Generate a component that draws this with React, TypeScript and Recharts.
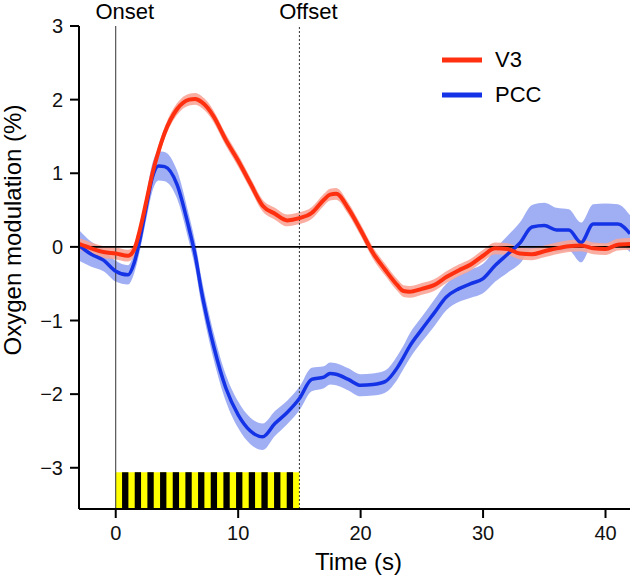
import {
  ComposedChart,
  Line,
  Area,
  XAxis,
  YAxis,
  ReferenceLine,
  ReferenceArea,
} from "recharts";

// time (s) and mean responses
const TIME = [
  -3, -2, -1, 0, 1, 1.5, 2, 2.5, 3, 3.5, 4, 5, 6, 6.5, 7, 7.5, 8, 9, 10, 11,
  12, 13, 14, 15, 16, 17, 17.5, 18, 19, 20, 21, 22, 23, 23.5, 24, 25, 26, 27,
  28, 29, 30, 31, 32, 33, 34, 35, 36, 37, 38, 39, 40, 41, 42,
];

const V3 = [
  0.04, -0.02, -0.07, -0.09, -0.12, -0.04, 0.25, 0.62, 1.0, 1.3, 1.55, 1.87,
  2.0, 2.01, 1.97, 1.89, 1.77, 1.45, 1.17, 0.86, 0.56, 0.45, 0.36, 0.39, 0.46,
  0.64, 0.71, 0.72, 0.52, 0.23, -0.08, -0.31, -0.52, -0.6, -0.61, -0.57,
  -0.52, -0.41, -0.32, -0.24, -0.12, -0.02, -0.03, -0.09, -0.1, -0.06, -0.02,
  0.01, 0.02, -0.02, -0.03, 0.03, 0.04,
];

const PCC = [
  0.02, -0.1, -0.18, -0.33, -0.38, -0.22, 0.12, 0.55, 0.95, 1.1, 1.09, 0.85,
  0.24, -0.12, -0.6, -1.0, -1.35, -1.92, -2.28, -2.5, -2.58, -2.4, -2.25,
  -2.06, -1.8, -1.77, -1.72, -1.73, -1.8, -1.88, -1.87, -1.83, -1.64, -1.5,
  -1.35, -1.12, -0.9, -0.68, -0.57, -0.5, -0.43, -0.25, -0.1, 0.05, 0.27, 0.29,
  0.23, 0.23, 0.06, 0.31, 0.31, 0.31, 0.18,
];

// half width of the shaded error bands
const V3_SEM = 0.08;
const PCC_SEM = [
  0.21, 0.17, 0.15, 0.14, 0.13, 0.14, 0.15, 0.17, 0.19, 0.2, 0.2, 0.19, 0.18,
  0.18, 0.18, 0.18, 0.18, 0.18, 0.18, 0.18, 0.18, 0.17, 0.16, 0.16, 0.16,
  0.15, 0.15, 0.15, 0.15, 0.15, 0.15, 0.15, 0.16, 0.16, 0.17, 0.17, 0.18,
  0.18, 0.18, 0.19, 0.2, 0.22, 0.25, 0.28, 0.3, 0.31, 0.3, 0.28, 0.27, 0.27,
  0.28, 0.27, 0.25,
];

const X_TICKS = [0, 10, 20, 30, 40];
const Y_TICKS = [-3, -2, -1, 0, 1, 2, 3];

const STIM_ON = 0;
const STIM_OFF = 15;
// black stripes of the flickering stimulus bar
const FLICKER_STARTS = [
  0.517, 1.551, 2.586, 3.62, 4.655, 5.689, 6.724, 7.758, 8.793, 9.827, 10.862,
  11.896, 12.931, 13.965,
];
const FLICKER_WIDTH = 0.517;

const RED = "#ff3010";
const RED_BAND = "#f8a597";
const BLUE = "#1432e6";
const BLUE_BAND = "#8fa0f2";

const FONT = "'Liberation Sans', Arial, Helvetica, sans-serif";

const data = TIME.map((t, i) => ({
  t,
  v3: V3[i],
  v3Band: [V3[i] - V3_SEM, V3[i] + V3_SEM],
  pcc: PCC[i],
  pccBand: [PCC[i] - PCC_SEM[i], PCC[i] + PCC_SEM[i]],
}));

const fmt = (v: number) => (v < 0 ? `\u2212${Math.abs(v)}` : `${v}`);

function EventLabel({ viewBox, text }: any) {
  return (
    <text
      x={viewBox.x + 9}
      y={viewBox.y - 7}
      textAnchor="middle"
      fontSize={22}
      fontFamily={FONT}
      fill="#000"
    >
      {text}
    </text>
  );
}

function YTitle({ viewBox }: any) {
  const x = viewBox.x + 21;
  const y = 230;
  return (
    <text
      x={x}
      y={y}
      transform={`rotate(-90 ${x} ${y})`}
      textAnchor="middle"
      fontSize={24}
      fontFamily={FONT}
      fill="#000"
    >
      Oxygen modulation (%)
    </text>
  );
}

function LegendBox() {
  const items = [
    { name: "V3", color: RED },
    { name: "PCC", color: BLUE },
  ];
  return (
    <div
      style={{
        position: "absolute",
        left: 442,
        top: 42,
        fontFamily: FONT,
        fontSize: 22,
      }}
    >
      {items.map((it) => (
        <div
          key={it.name}
          style={{ display: "flex", alignItems: "center", height: 35 }}
        >
          <svg width={53} height={10}>
            <line
              x1={0}
              y1={5}
              x2={40}
              y2={5}
              stroke={it.color}
              strokeWidth={5}
            />
          </svg>
          <span>{it.name}</span>
        </div>
      ))}
    </div>
  );
}

export default function App() {
  return (
    <div style={{ position: "absolute", left: 0, top: 0, width: 636, height: 577 }}>
      <ComposedChart
        width={636}
        height={577}
        data={data}
        margin={{ top: 26, right: 6, bottom: 0, left: 0 }}
        style={{ fontFamily: FONT }}
      >
        <XAxis
          dataKey="t"
          type="number"
          domain={[-3, 42]}
          ticks={X_TICKS}
          allowDataOverflow
          height={68}
          tickSize={9}
          tickMargin={8}
          stroke="#000"
          strokeWidth={2}
          tick={{ fill: "#111", fontSize: 20 }}
          label={{
            value: "Time (s)",
            position: "insideBottom",
            offset: 7,
            dx: 4,
            fontSize: 24,
            fill: "#000",
          }}
        />
        <YAxis
          type="number"
          domain={[-3.56, 3]}
          ticks={Y_TICKS}
          allowDataOverflow
          width={79}
          tickSize={9}
          tickMargin={7}
          tickFormatter={fmt}
          stroke="#000"
          strokeWidth={2}
          tick={{ fill: "#111", fontSize: 20 }}
          label={<YTitle />}
        />

        <ReferenceArea
          x1={STIM_ON}
          x2={STIM_OFF}
          y1={-3.56}
          y2={-3.06}
          fill="#ffff00"
          fillOpacity={1}
          stroke="none"
        />
        {FLICKER_STARTS.map((s) => (
          <ReferenceArea
            key={s}
            x1={s}
            x2={s + FLICKER_WIDTH}
            y1={-3.56}
            y2={-3.06}
            fill="#000"
            fillOpacity={1}
            stroke="none"
          />
        ))}

        <ReferenceLine
          x={STIM_ON}
          stroke="#333"
          strokeWidth={1}
          label={<EventLabel text="Onset" />}
        />
        <ReferenceLine
          x={STIM_OFF}
          stroke="#333"
          strokeWidth={1}
          strokeDasharray="2 2"
          label={<EventLabel text="Offset" />}
        />
        <ReferenceLine y={0} stroke="#000" strokeWidth={1.8} />

        <Area
          dataKey="pccBand"
          type="monotone"
          stroke="none"
          fill={BLUE_BAND}
          fillOpacity={0.85}
          isAnimationActive={false}
          activeDot={false}
        />
        <Area
          dataKey="v3Band"
          type="monotone"
          stroke="none"
          fill={RED_BAND}
          fillOpacity={0.9}
          isAnimationActive={false}
          activeDot={false}
        />
        <Line
          dataKey="pcc"
          type="monotone"
          stroke={BLUE}
          strokeWidth={3.5}
          dot={false}
          isAnimationActive={false}
        />
        <Line
          dataKey="v3"
          type="monotone"
          stroke={RED}
          strokeWidth={4}
          dot={false}
          isAnimationActive={false}
        />
      </ComposedChart>
      <LegendBox />
    </div>
  );
}
